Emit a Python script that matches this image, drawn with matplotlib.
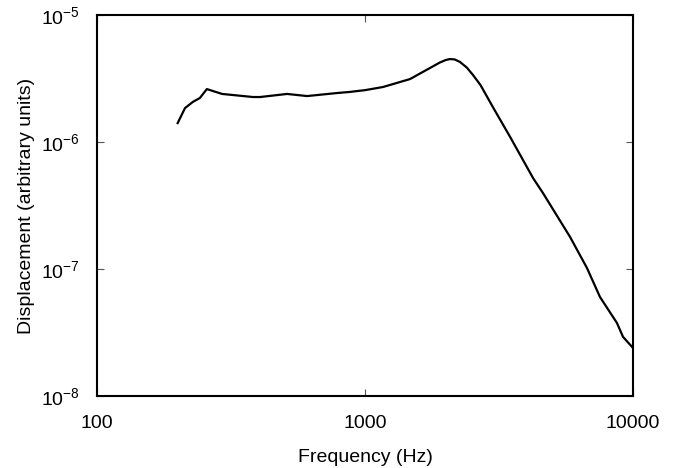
import matplotlib
matplotlib.use("Agg")
import matplotlib.pyplot as plt
from matplotlib.ticker import LogLocator, LogFormatterMathtext, NullLocator

plt.rcParams['font.family'] = ['Liberation Sans', 'DejaVu Sans']
plt.rcParams['mathtext.fontset'] = 'custom'
plt.rcParams['mathtext.rm'] = 'Liberation Sans'
plt.rcParams['mathtext.it'] = 'Liberation Sans:italic'
plt.rcParams['mathtext.bf'] = 'Liberation Sans:bold'

freq_hz = [200, 213, 228, 242, 257, 293, 382, 406, 512, 608, 787, 879, 1000,
           1167, 1472, 1749, 1900, 2000, 2075, 2160, 2261, 2400, 2529, 2700,
           3006, 3476, 4236, 4615, 5821, 6731, 7530, 8710, 9180, 10000]
displacement = [1.41e-6, 1.85e-6, 2.07e-6, 2.22e-6, 2.61e-6, 2.39e-6, 2.26e-6,
                2.26e-6, 2.39e-6, 2.30e-6, 2.43e-6, 2.48e-6, 2.56e-6,
                2.71e-6, 3.13e-6, 3.83e-6, 4.22e-6, 4.42e-6, 4.50e-6, 4.47e-6,
                4.27e-6, 3.85e-6, 3.37e-6, 2.80e-6,
                1.87e-6, 1.10e-6, 5.21e-7, 3.96e-7, 1.79e-7, 1.02e-7, 6.02e-8,
                3.76e-8, 2.92e-8, 2.39e-8]

fig = plt.figure(figsize=(6.74, 4.68), dpi=100)
ax = fig.add_axes([97/674, 1-396/468, (633-97)/674, (396-15)/468])
ax.plot(freq_hz, displacement, color='black', lw=1.6)
ax.set_xscale('log')
ax.set_yscale('log')
ax.set_xlim(100, 10000)
ax.set_ylim(1e-8, 1e-5)
ax.xaxis.set_major_locator(LogLocator(base=10, numticks=10))
ax.yaxis.set_major_locator(LogLocator(base=10, numticks=10))
ax.xaxis.set_minor_locator(NullLocator())
ax.yaxis.set_minor_locator(NullLocator())
ax.xaxis.set_major_formatter(plt.FuncFormatter(lambda v, p: f"{int(round(v))}"))
ax.yaxis.set_major_formatter(LogFormatterMathtext())
ax.tick_params(direction='in', length=5, width=0.8, color='#555555',
               top=True, right=True, labelsize=14)
ax.tick_params(axis='x', pad=14)
ax.tick_params(axis='y', pad=12)
for s in ax.spines.values():
    s.set_linewidth(1.5)
ax.set_xlabel('Frequency (Hz)', fontsize=14, labelpad=12)
ax.set_ylabel('Displacement (arbitrary units)', fontsize=14, labelpad=5)
fig.savefig('out.png', dpi=100)
